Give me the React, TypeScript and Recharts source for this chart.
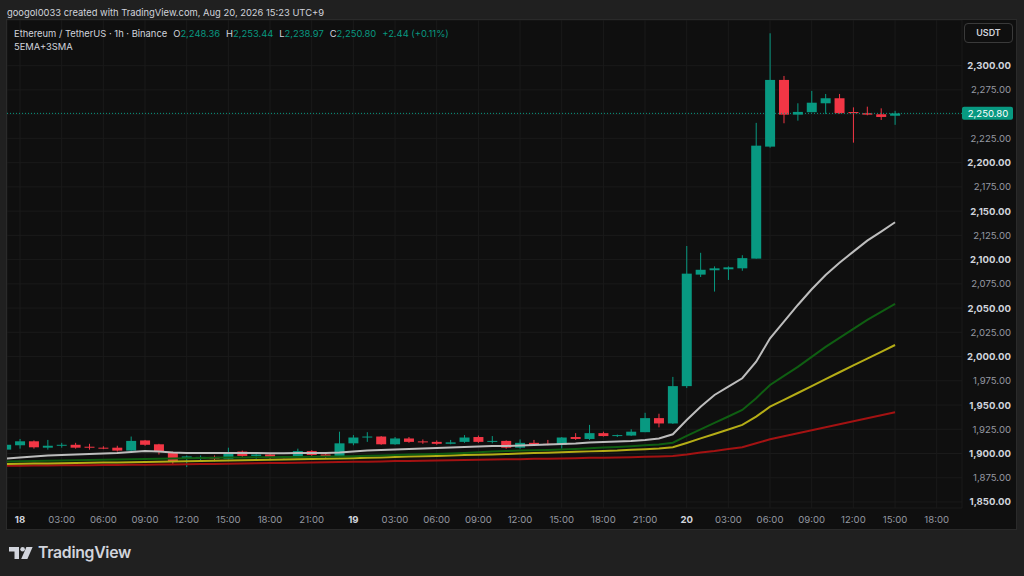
import React from 'react';
import { ComposedChart, Bar, Line, XAxis, YAxis, CartesianGrid, ReferenceLine } from 'recharts';

// hour offsets from Aug 18 00:00 (one candle per hour)
const hours = [
  -1, 0, 1, 2, 3, 4, 5, 6, 7, 8, 9, 10, 11, 12, 13, 14, 15, 16, 17, 18, 19, 20, 21, 22, 23,
  24, 25, 26, 27, 28, 29, 30, 31, 32, 33, 34, 35, 36, 37, 38, 39, 40, 41, 42, 43, 44, 45, 46, 47,
  48, 49, 50, 51, 52, 53, 54, 55, 56, 57, 58, 59, 60, 61, 62, 63,
];

const opens = [
  1904, 1908.5, 1912.6, 1906, 1908, 1909, 1907, 1906, 1906, 1903, 1913.5, 1909.5, 1901, 1895, 1894.5, 1896.5,
  1894.5, 1902, 1897.5, 1899, 1895.5, 1896.5, 1902.5, 1899, 1896.5, 1910.5, 1916.5, 1917.5, 1909.5, 1915.5, 1912.5,
  1912, 1910, 1912, 1917, 1912, 1913, 1906, 1911, 1910, 1909, 1917, 1915, 1921, 1918, 1918.5, 1922, 1936.5, 1931,
  1969.5, 2084.5, 2089, 2090, 2091, 2101, 2216.5, 2285.3, 2249.5, 2252, 2261.2, 2266.4, 2252.2, 2251, 2249.9, 2248.36,
];
const highs = [
  1911, 1915, 1913.5, 1914, 1911, 1911, 1910, 1907.5, 1908, 1917.5, 1914, 1910, 1902, 1898, 1898, 1898,
  1906, 1903, 1900.5, 1900, 1897, 1905, 1903.5, 1900, 1922.5, 1919, 1922, 1918, 1917, 1917, 1914.5,
  1913.5, 1914, 1919, 1918.5, 1918, 1913.5, 1914.5, 1914, 1914, 1917, 1921, 1929.5, 1922.5, 1919.5, 1925, 1942, 1941, 1979,
  2114, 2107, 2093, 2093, 2104.5, 2241, 2333.4, 2289.4, 2261.2, 2274, 2270.8, 2270.8, 2257, 2257.7, 2256, 2253.44,
];
const lows = [
  1902, 1905, 1905, 1904, 1906, 1905, 1904, 1904.5, 1902, 1902, 1908, 1899, 1889, 1886, 1893, 1892,
  1894, 1896, 1894.5, 1894.5, 1895, 1896, 1897, 1894.5, 1896, 1908.5, 1912, 1909, 1909, 1911, 1910,
  1909, 1909.5, 1911, 1911, 1910.5, 1905, 1905, 1908.5, 1908.5, 1905, 1914, 1914, 1917.5, 1917, 1918, 1922, 1927, 1930.5,
  1967.5, 2082, 2067, 2079, 2088.5, 2101, 2215.4, 2240.6, 2243.3, 2252, 2250.2, 2250.5, 2220.6, 2248.8, 2244, 2238.97,
];
const closes = [
  1909, 1912.6, 1906.4, 1908, 1909, 1906, 1906, 1905.5, 1903, 1913, 1909, 1902, 1892, 1897, 1896.5, 1894.5,
  1901, 1897.5, 1899, 1895.5, 1896.5, 1902.5, 1898.5, 1896.5, 1910.5, 1916.5, 1917.5, 1909.5, 1915.5, 1912, 1911.5,
  1910, 1911.5, 1916.5, 1912, 1913, 1906, 1911, 1909, 1909, 1916.5, 1915, 1921, 1918, 1919, 1922.5, 1936.5, 1931, 1969.5,
  2085.5, 2089.5, 2091, 2092, 2101.5, 2217.5, 2285.3, 2249.5, 2252.3, 2261.8, 2266.4, 2251, 2251, 2249.5, 2247.1, 2250.8,
];

// indicator lines
const maGrey = [
  1894.9, 1895.9, 1896.9, 1897.9, 1898.5, 1899.0, 1899.5, 1900.0, 1900.5, 1901.6, 1902.6, 1902.1, 1901.1, 1900.5, 1900.5, 1900.5,
  1900.5, 1900.5, 1900.5, 1900.2, 1900.2, 1900.5, 1900.5, 1900.5, 1901.1, 1902.1, 1903.1, 1903.6, 1904.2, 1904.7, 1905.2,
  1905.7, 1906.2, 1906.7, 1907.2, 1907.8, 1907.8, 1908.3, 1908.8, 1909.3, 1909.8, 1910.3, 1911.4, 1911.9, 1912.4, 1912.9, 1913.9, 1915.5, 1919.8,
  1934.6, 1948.3, 1960.4, 1968.9, 1977.6, 1994.7, 2018.8, 2036.0, 2053.2, 2069.4, 2084.1, 2096.8, 2108.2, 2119.5, 2128.8, 2138.5,
];
const maGreen = [
  1891.8, 1892.1, 1892.3, 1892.6, 1892.8, 1893.1, 1893.3, 1893.6, 1893.8, 1894.1, 1894.3, 1894.6, 1894.8, 1895.0, 1895.4, 1895.6,
  1895.9, 1896.0, 1896.1, 1896.2, 1896.4, 1896.5, 1896.6, 1896.8, 1896.9, 1897.3, 1897.7, 1898.0, 1898.5, 1898.9, 1899.3,
  1899.6, 1900.0, 1900.6, 1901.2, 1902.0, 1902.6, 1903.0, 1903.3, 1903.7, 1904.1, 1904.7, 1905.5, 1906.1, 1906.7, 1907.5, 1908.5, 1909.3, 1911.1,
  1918.1, 1924.8, 1931.5, 1938.2, 1944.9, 1957.0, 1970.7, 1980.0, 1989.3, 1999.6, 2009.9, 2019.2, 2028.5, 2037.8, 2046.0, 2054.3,
];
const maYellow = [
  1889.2, 1889.4, 1889.6, 1889.8, 1890.0, 1890.2, 1890.4, 1890.6, 1890.8, 1891.1, 1891.3, 1891.5, 1891.8, 1892.1, 1892.3, 1892.6,
  1892.8, 1893.1, 1893.3, 1893.6, 1893.8, 1894.1, 1894.3, 1894.6, 1894.8, 1895.2, 1895.7, 1896.0, 1896.4, 1896.8, 1897.2,
  1897.5, 1897.9, 1898.4, 1898.8, 1899.1, 1899.5, 1899.9, 1900.4, 1900.9, 1901.4, 1901.8, 1902.2, 1902.7, 1903.1, 1903.9, 1904.5, 1905.2, 1906.5,
  1910.9, 1915.6, 1920.2, 1924.8, 1929.5, 1938.0, 1948.3, 1955.4, 1962.4, 1969.6, 1976.7, 1983.8, 1990.8, 1997.9, 2004.9, 2011.9,
];
const maRed = [
  1887.4, 1887.5, 1887.6, 1887.7, 1887.8, 1887.9, 1888.0, 1888.1, 1888.2, 1888.4, 1888.5, 1888.6, 1888.7, 1888.9, 1889.1, 1889.3,
  1889.5, 1889.7, 1889.9, 1890.1, 1890.3, 1890.5, 1890.8, 1891.0, 1891.2, 1891.4, 1891.6, 1891.8, 1892.2, 1892.4, 1892.6,
  1892.8, 1893.1, 1893.3, 1893.5, 1893.8, 1894.0, 1894.2, 1894.5, 1894.7, 1894.9, 1895.1, 1895.5, 1895.7, 1895.9, 1896.2, 1896.6, 1896.9, 1897.4,
  1899.0, 1901.0, 1902.6, 1904.7, 1906.4, 1910.5, 1914.7, 1917.8, 1920.9, 1924.0, 1927.1, 1930.2, 1933.3, 1936.4, 1939.5, 1942.5,
];

const timeTicks = [0, 3, 6, 9, 12, 15, 18, 21, 24, 27, 30, 33, 36, 39, 42, 45, 48, 51, 54, 57, 60, 63, 66];
const timeLabels = [
  '18', '03:00', '06:00', '09:00', '12:00', '15:00', '18:00', '21:00',
  '19', '03:00', '06:00', '09:00', '12:00', '15:00', '18:00', '21:00',
  '20', '03:00', '06:00', '09:00', '12:00', '15:00', '18:00',
];
const dayLabels = ['18', '19', '20'];
const priceTicks = [
  1850, 1875, 1900, 1925, 1950, 1975, 2000, 2025, 2050, 2075, 2100, 2125, 2150, 2175, 2200, 2225, 2250, 2275, 2300,
];
const lastPrice = 2250.8;

const UP = '#089981';
const DOWN = '#f23645';
const FONT = 'Inter, "Noto Sans", sans-serif';

const data = hours.map((t, i) => ({
  t,
  range: [lows[i], highs[i]],
  open: opens[i],
  high: highs[i],
  low: lows[i],
  close: closes[i],
  maGrey: maGrey[i],
  maGreen: maGreen[i],
  maYellow: maYellow[i],
  maRed: maRed[i],
}));

const fmt = (v: number) => v.toLocaleString('en-US', { minimumFractionDigits: 2, maximumFractionDigits: 2 });

const Candle = (props: any) => {
  const { x, y, width, height, payload } = props;
  if (x == null || y == null || !payload) return null;
  const { open, close, high, low } = payload;
  const top = Math.min(y, y + height);
  const span = Math.abs(height);
  const k = span / (high - low);
  const py = (v: number) => top + (high - v) * k;
  const color = close >= open ? UP : DOWN;
  const cx = x + width / 2;
  const bTop = py(Math.max(open, close));
  const bBot = py(Math.min(open, close));
  return (
    <g>
      <line x1={cx} x2={cx} y1={top} y2={top + span} stroke={color} strokeWidth={1} />
      <rect x={cx - 5} y={bTop} width={10} height={Math.max(1, bBot - bTop)} fill={color} />
    </g>
  );
};

const TimeTick = (props: any) => {
  const { x, payload } = props;
  const label = timeLabels[timeTicks.indexOf(payload.value)];
  const isDay = dayLabels.includes(label);
  return (
    <text x={x} y={502.5} textAnchor="middle" fontSize={9.6} fontFamily={FONT}
      fill={isDay ? '#d1d4dc' : '#9598a1'} fontWeight={isDay ? 700 : 400}>
      {label}
    </text>
  );
};

const PriceTick = (props: any) => {
  const { y, payload } = props;
  if (Math.abs(payload.value - lastPrice) < 8) return null;
  const strong = payload.value % 50 === 0;
  return (
    <text x={1004} y={y + 3.5} textAnchor="end" fontSize={9.6} fontFamily={FONT}
      fill={strong ? '#d1d4dc' : '#9598a1'} fontWeight={strong ? 700 : 400}>
      {fmt(payload.value)}
    </text>
  );
};

const PriceTag = (props: any) => {
  const { viewBox } = props;
  if (!viewBox) return null;
  const right = viewBox.x + viewBox.width;
  return (
    <g>
      <rect x={right} y={viewBox.y - 6.5} width={51} height={13} rx={2} fill={UP} />
      <text x={right + 26} y={viewBox.y + 3.5} textAnchor="middle" fontSize={9.6} fontFamily={FONT} fill="#ffffff">
        {fmt(lastPrice)}
      </text>
    </g>
  );
};

const Logo = () => (
  <svg width={24} height={13} viewBox="0 0 24 13" style={{ display: 'block' }}>
    <path d="M0 0 H10 V12 H5.5 V4.6 H0 Z" fill="#d1d4dc" />
    <circle cx={13.6} cy={2.3} r={2.3} fill="#d1d4dc" />
    <path d="M17.4 0 H23.6 L18.4 12 H12.2 Z" fill="#d1d4dc" />
  </svg>
);

const Legend = () => {
  const item = (k: string, v: string) => (
    <span style={{ marginRight: 6 }}>
      <span style={{ color: '#d1d4dc' }}>{k}</span>
      <span style={{ color: UP }}>{v}</span>
    </span>
  );
  return (
    <div style={{ position: 'absolute', left: 7, top: 7, fontFamily: FONT, fontSize: 9.4, lineHeight: '13px', color: '#d1d4dc' }}>
      <div>
        <span style={{ marginRight: 6 }}>Ethereum / TetherUS · 1h · Binance</span>
        {item('O', '2,248.36')}
        {item('H', '2,253.44')}
        {item('L', '2,238.97')}
        {item('C', '2,250.80')}
        <span style={{ color: UP }}>+2.44 (+0.11%)</span>
      </div>
      <div>5EMA+3SMA</div>
    </div>
  );
};

export default function App() {
  return (
    <div style={{ position: 'fixed', left: 0, top: 0, width: 1024, height: 576, background: '#202020', overflow: 'hidden', fontFamily: FONT }}>
      <div style={{ position: 'absolute', left: 7, top: 6, fontSize: 9.4, lineHeight: '13px', color: '#d1d4dc' }}>
        googol0033 created with TradingView.com, Aug 20, 2026 15:23 UTC+9
      </div>
      <div style={{ position: 'absolute', left: 7, top: 20, width: 1009, height: 509, background: '#0f0f0f', boxShadow: '0 0 0 1px #2a2a2a' }}>
        <ComposedChart width={1009} height={509} data={data} margin={{ top: 0, right: 0, bottom: 0, left: 0 }}>
          <CartesianGrid stroke="#1a1a1a" strokeWidth={1} />
          <XAxis dataKey="t" type="number" domain={[-0.936, 67.82]} allowDataOverflow ticks={timeTicks} interval={0}
            height={21} axisLine={false} tickLine={false} tick={<TimeTick />} />
          <YAxis orientation="right" width={54} type="number" domain={[1843.8, 2347.1]} allowDataOverflow ticks={priceTicks}
            interval={0} axisLine={false} tickLine={false} tick={<PriceTick />} />
          <Line dataKey="maRed" stroke="#a31212" strokeWidth={2} dot={false} isAnimationActive={false} />
          <Line dataKey="maYellow" stroke="#b5ad16" strokeWidth={2} dot={false} isAnimationActive={false} />
          <Line dataKey="maGreen" stroke="#0f5e12" strokeWidth={2} dot={false} isAnimationActive={false} />
          <Line dataKey="maGrey" stroke="#bdbdbd" strokeWidth={2} dot={false} isAnimationActive={false} />
          <Bar dataKey="range" barSize={10} shape={<Candle />} isAnimationActive={false} />
          <ReferenceLine y={lastPrice} stroke={UP} strokeDasharray="1 2" label={<PriceTag />} />
        </ComposedChart>
        <Legend />
        <div style={{ position: 'absolute', left: 957, top: 3, width: 47, height: 18, border: '1px solid #3a3a3a', borderRadius: 4,
          color: '#d1d4dc', fontSize: 9, fontWeight: 600, lineHeight: '18px', textAlign: 'center' }}>
          USDT
        </div>
      </div>
      <div style={{ position: 'absolute', left: 9, top: 546, display: 'flex', alignItems: 'center' }}>
        <Logo />
        <span style={{ marginLeft: 5, fontSize: 15.8, fontWeight: 600, color: '#d1d4dc', letterSpacing: -0.3, lineHeight: '14px' }}>TradingView</span>
      </div>
    </div>
  );
}
